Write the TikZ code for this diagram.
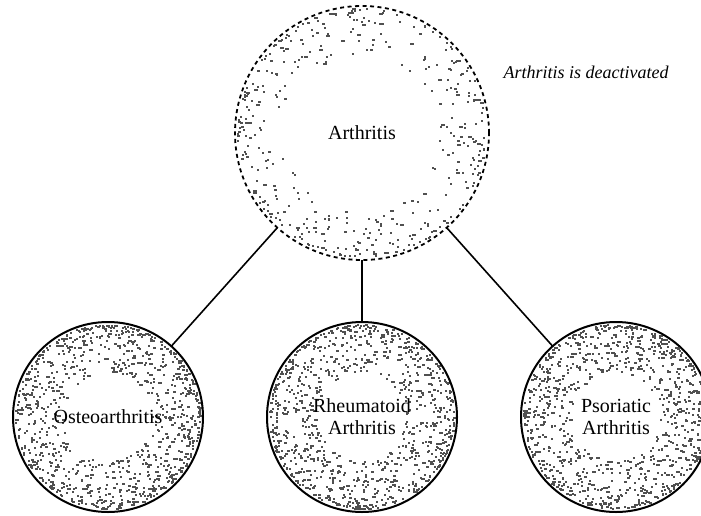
\documentclass[tikz,border=0pt]{standalone}
\usepackage{fontspec}
\setmainfont{Liberation Serif}
\definecolor{dotc}{HTML}{505050}
\newcommand\mystipple[6]{% cx cy R N seed spread
  \pgfmathsetseed{#5}
  \foreach \k in {1,...,#4}{
    \pgfmathsetmacro\aa{rnd*360}
    \pgfmathsetmacro\uu{rnd}
    \pgfmathsetmacro\rr{#3*(1-#6*\uu*\uu)-3}
    \pgfmathsetmacro\ww{2+(rnd>0.75)*1.4}
    \fill[dotc] ({#1+\rr*cos(\aa)-1},{#2+\rr*sin(\aa)-1}) rectangle ++(\ww,2);
  }}
\tikzset{
  lbl/.style={font=\fontsize{20}{22}\selectfont, align=center},
  bigc/.style={circle, draw, line width=1.8pt, dash pattern=on 4pt off 3.5pt, minimum size=254pt, inner sep=0pt, outer sep=0pt, lbl},
  smallc/.style={circle, draw, line width=2pt, minimum size=190pt, inner sep=0pt, outer sep=0pt, lbl},
  conn/.style={line width=1.6pt},
  note/.style={font=\fontsize{18}{20}\selectfont\itshape}
}
\begin{document}
\begin{tikzpicture}[x=1pt,y=-1pt]
\useasboundingbox (0,0) rectangle (701,515);
\mystipple{362}{133}{127}{420}{11}{0.36}
\mystipple{108}{417}{95}{950}{21}{0.5}
\mystipple{362}{417}{95}{950}{31}{0.5}
\mystipple{616}{417}{95}{950}{41}{0.5}
\node[bigc] (arth) at (362,133) {Arthritis};
\node[smallc] (osteo) at (108,417) {Osteoarthritis};
\node[smallc] (rheum) at (362,417) {Rheumatoid\\Arthritis};
\node[smallc] (psor) at (616,417) {Psoriatic\\Arthritis};
\node[note] (deact) at (586,72) {Arthritis is deactivated};
\draw[conn] (arth) -- (osteo);
\draw[conn] (arth) -- (rheum);
\draw[conn] (arth) -- (psor);
\end{tikzpicture}
\end{document}
